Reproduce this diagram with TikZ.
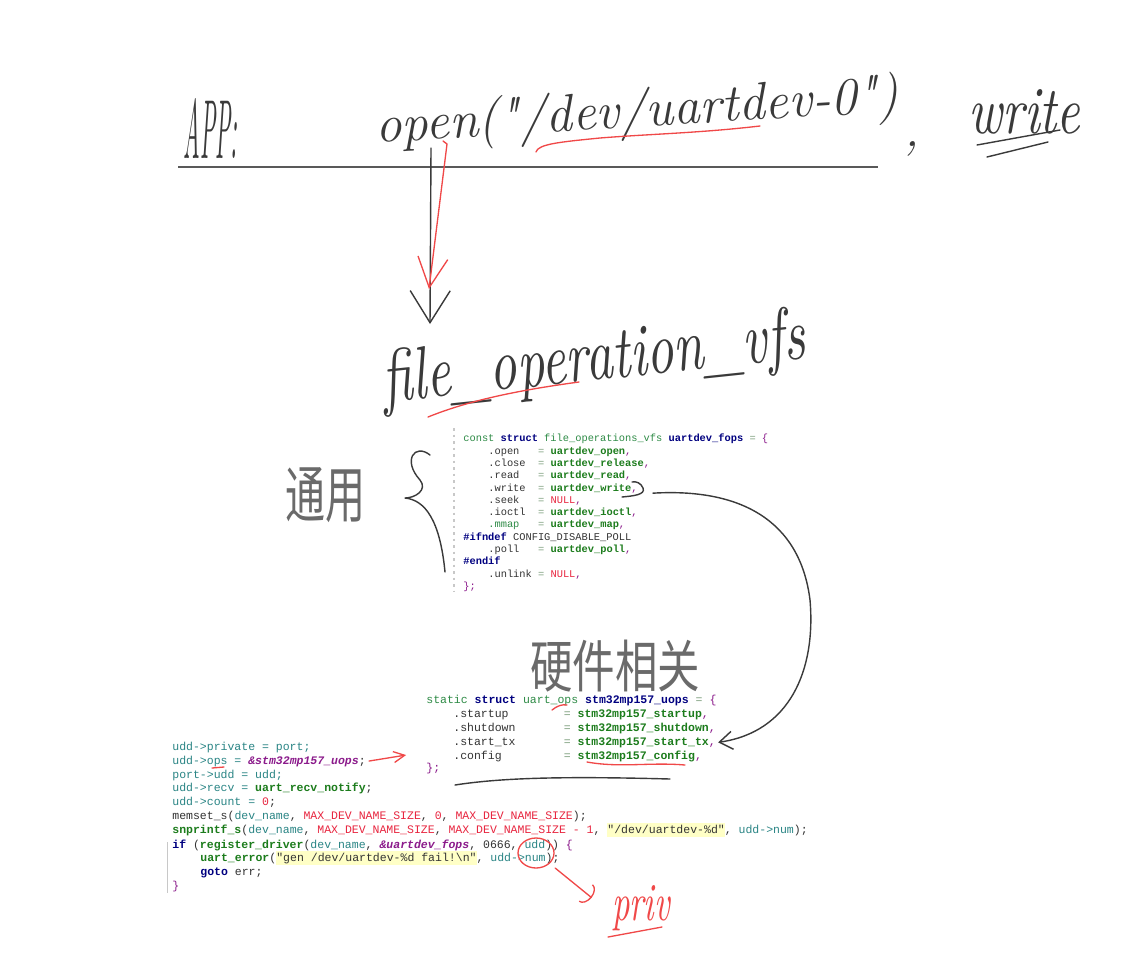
\documentclass[tikz,border=0pt]{standalone}
\usepackage{fontspec}
\setmonofont{Liberation Mono}
\newfontfamily\cjkfont{Noto Sans CJK SC}
\usetikzlibrary{arrows.meta,calc,shapes.geometric}
\definecolor{ink}{HTML}{3A3A3A}
\definecolor{cjkink}{HTML}{6A6A6A}
\definecolor{redink}{HTML}{F04848}
\definecolor{kwnavy}{HTML}{000080}
\definecolor{tygreen}{HTML}{2E8B46}
\definecolor{fngreen}{HTML}{1C7C1C}
\definecolor{punpurple}{HTML}{8B1A8B}
\definecolor{litred}{HTML}{E8253F}
\definecolor{varteal}{HTML}{2A8585}
\definecolor{eqgray}{HTML}{7FA07F}
\definecolor{fieldgray}{HTML}{333333}
\definecolor{strbg}{HTML}{FFFFC6}
\definecolor{gutter}{HTML}{C8C8C8}

\newcommand{\ckw}[1]{\textcolor{kwnavy}{\bfseries#1}}
\newcommand{\cty}[1]{\textcolor{tygreen}{#1}}
\newcommand{\cfn}[1]{\textcolor{fngreen}{\bfseries#1}}
\newcommand{\cpu}[1]{\textcolor{punpurple}{#1}}
\newcommand{\clit}[1]{\textcolor{litred}{#1}}
\newcommand{\cvar}[1]{\textcolor{varteal}{#1}}
\newcommand{\cptr}[1]{\textcolor{punpurple}{\bfseries\itshape#1}}
\newcommand{\ceq}{\textcolor{eqgray}{=}}
\newcommand{\chl}[1]{{\setlength{\fboxsep}{0pt}\colorbox{strbg}{\strut#1}}}
\newcommand{\hw}[3]{\resizebox{#1}{#2}{\itshape#3}}

\begin{document}
\begin{tikzpicture}[x=0.02cm, y=-0.02cm,
    hand/.style={draw=ink, line width=0.8pt, line cap=round, line join=round},
    redhand/.style={draw=redink, line width=0.75pt, line cap=round, line join=round},
    handtxt/.style={inner sep=0pt, text=ink},
    codeA/.style={anchor=base west, inner sep=0pt, text=fieldgray, font=\ttfamily\fontsize{5.9}{7}\selectfont},
    codeB/.style={anchor=base west, inner sep=0pt, text=fieldgray, font=\ttfamily\fontsize{6.55}{8}\selectfont},
]
\fill[white] (0,0) rectangle (1124,967);
\useasboundingbox (0,0) rectangle (1124,967);

% app call line
\node[handtxt, anchor=base west] (app) at (183,158) {\hw{1.08cm}{1.2cm}{APP:}};
\node[handtxt, anchor=base west, rotate=3.5] (open) at (376,143) {\fontsize{30}{30}\selectfont\itshape open(\textquotedbl/dev/uartdev-0\textquotedbl)};
\node[handtxt, anchor=base] (comma) at (912,146) {\fontsize{29}{29}\selectfont\itshape ,};
\node[handtxt, anchor=base west] (write) at (968,133) {\hw{2.24cm}{0.88cm}{write}};
\draw[draw=gray!70!black, line width=0.9pt] (178,167) -- (878,167);
\draw[redhand] (536,152) .. controls (538,144) and (560,142) .. (600,138) .. controls (650,134) and (700,133) .. (760,126);
\draw[hand] (977,145) -- (1060,130);
\draw[hand] (987,157) -- (1048,142);

% down to vfs
\node[handtxt, anchor=base, rotate=6] (vfs) at (596,380) {\hw{8.5cm}{1.05cm}{file\_operation\_vfs}};
\coordinate (openFoot) at (431,148);
\coordinate (vfsIn) at (430,324);
\coordinate (openRed) at (443,141);
\coordinate (vfsRed) at (429,289);
\draw[hand, -{Straight Barb[length=0.64cm, width=0.8cm]}] (openFoot) -- (vfsIn);
\draw[redhand, -{Straight Barb[length=0.6cm, width=0.6cm]}] (openRed) -- ++(4,3) -- (vfsRed);
\draw[redhand] (428,417) .. controls (470,400) and (520,390) .. (579,382);

% generic layer
\node[handtxt, text=cjkink] (tongyong) at (325,495) {\resizebox{1.6cm}{1.0cm}{\cjkfont 通用}};
\draw[hand] (430,455) .. controls (415,443) and (402,460) .. (420,480) .. controls (428,490) and (415,498) .. (405,498) .. controls (425,500) and (440,520) .. (445,572);
\draw[gutter, line width=1.2pt, dash pattern=on 1.5pt off 2.2pt] (454,428) -- (454,592);

\node[codeA] (fHead) at (463,441) {\cty{const} \ckw{struct} \cty{file\_operations\_vfs} \ckw{uartdev\_fops} \ceq{} \cpu{\{}};
\node[codeA] (fOpen) at (488,454) {.open~~~\ceq{} \cfn{uartdev\_open}\cpu{,}};
\node[codeA] (fClose) at (488,466) {.close~~\ceq{} \cfn{uartdev\_release}\cpu{,}};
\node[codeA] (fRead) at (488,478) {.read~~~\ceq{} \cfn{uartdev\_read}\cpu{,}};
\node[codeA] (fWrite) at (488,491) {.write~~\ceq{} \cfn{uartdev\_write}\cpu{,}};
\node[codeA] (fSeek) at (488,503) {.seek~~~\ceq{} \clit{NULL}\cpu{,}};
\node[codeA] (fIoctl) at (488,515) {.ioctl~~\ceq{} \cfn{uartdev\_ioctl}\cpu{,}};
\node[codeA] (fMmap) at (488,527) {\cty{.mmap}~~~\ceq{} \cfn{uartdev\_map}\cpu{,}};
\node[codeA] (fIfn) at (463,540) {\ckw{\#ifndef} CONFIG\_DISABLE\_POLL};
\node[codeA] (fPoll) at (488,552) {.poll~~~\ceq{} \cfn{uartdev\_poll}\cpu{,}};
\node[codeA] (fEndif) at (463,564) {\ckw{\#endif}};
\node[codeA] (fUnlink) at (488,577) {.unlink \ceq{} \clit{NULL}\cpu{,}};
\node[codeA] (fTail) at (463,589) {\cpu{\};}};

% hardware layer
\node[handtxt, text=cjkink] (yingjian) at (615,666) {\resizebox{3.4cm}{0.95cm}{\cjkfont 硬件相关}};

\node[codeB] (uHead) at (426,703) {\cty{static} \ckw{struct} \cty{uart\_ops} \ckw{stm32mp157\_uops} \ceq{} \cpu{\{}};
\node[codeB] (uStart) at (453,717) {.startup~~~~~~~~\ceq{} \cfn{stm32mp157\_startup}\cpu{,}};
\node[codeB] (uShut) at (453,731) {.shutdown~~~~~~~\ceq{} \cfn{stm32mp157\_shutdown}\cpu{,}};
\node[codeB] (uTx) at (453,745) {.start\_tx~~~~~~~\ceq{} \cfn{stm32mp157\_start\_tx}\cpu{,}};
\node[codeB] (uConf) at (453,759) {.config~~~~~~~~~\ceq{} \cfn{stm32mp157\_config}\cpu{,}};
\node[codeB] (uTail) at (426,771) {\cpu{\};}};

\draw[redhand] (552,710) .. controls (557,706) and (562,704) .. (567,705);
\draw[redhand] (587,762) .. controls (620,768) and (650,762) .. (685,765);
\draw[hand] (455,785) .. controls (500,778) and (560,776) .. (670,779);

% write -> start_tx
\coordinate (writeHook) at ($(fWrite.east)+(15,5)$);
\coordinate (txTip) at ($(uTx.east)+(2,0)$);
\draw[hand] (622,497) .. controls (632,496) and (646,495) .. (643,488) .. controls (641,483) and (636,481) .. (632,482);
\draw[hand, -{Straight Barb[length=0.26cm, width=0.36cm]}] (writeHook) .. controls (740,488) and (800,520) .. (810,600) .. controls (816,670) and (790,732) .. (txTip);

% driver registration
\node[codeB] (lPriv) at (172,750) {\cvar{udd->private = port;}};
\node[codeB] (lOps) at (172,764) {\cvar{udd->ops = }\cptr{\&stm32mp157\_uops};};
\node[codeB] (lPort) at (172,778) {\cvar{port->udd = udd;}};
\node[codeB] (lRecv) at (172,791) {\cvar{udd->recv = }\cfn{uart\_recv\_notify};};
\node[codeB] (lCount) at (172,805) {\cvar{udd->count = }\clit{0};};
\node[codeB] (lMemset) at (172,819) {memset\_s(\cvar{dev\_name}, \clit{MAX\_DEV\_NAME\_SIZE}, \clit{0}, \clit{MAX\_DEV\_NAME\_SIZE});};
\node[codeB] (lSnp) at (172,833) {\cfn{snprintf\_s}(\cvar{dev\_name}, \clit{MAX\_DEV\_NAME\_SIZE}, \clit{MAX\_DEV\_NAME\_SIZE - 1}, \chl{"/dev/uartdev-\%d"}, \cvar{udd->num});};
\node[codeB] (lIf) at (172,848) {\ckw{if} (\cfn{register\_driver}(\cvar{dev\_name}, \cptr{\&uartdev\_fops}, 0666, \cvar{udd})) \cpu{\{}};
\node[codeB] (lErr) at (200,861) {\cfn{uart\_error}(\chl{"gen /dev/uartdev-\%d fail!\textbackslash n"}, \cvar{udd->num});};
\node[codeB] (lGoto) at (200,875) {\ckw{goto} err;};
\node[codeB] (lEnd) at (172,889) {\cpu{\}}};
\draw[gutter, line width=0.5pt] (167,842) -- (167,893);

\draw[redhand] (212,768) -- (224,767);
\coordinate (opsFrom) at ($(lOps.east)+(3,0)$);
\coordinate (opsTo) at ($(lOps.east)+(40,-6)$);
\draw[redhand, -{Straight Barb[length=0.22cm, width=0.22cm]}] (opsFrom) -- (opsTo);

% udd passed as priv
\node[draw=redink, line width=0.75pt, ellipse, minimum width=0.72cm, minimum height=0.6cm, inner sep=0pt] (numRing) at (536,853) {};
\node[handtxt, text=redink, anchor=base] (priv) at (641,920) {\hw{1.16cm}{0.7cm}{priv}};
\draw[redhand, -{Arc Barb[length=0.15cm, width=0.45cm]}] ($(numRing.south east)+(6,4)$) -- ($(priv.west)+(-20,-10)$);
\draw[redhand] (608,937) -- (662,927);

\end{tikzpicture}
\end{document}
